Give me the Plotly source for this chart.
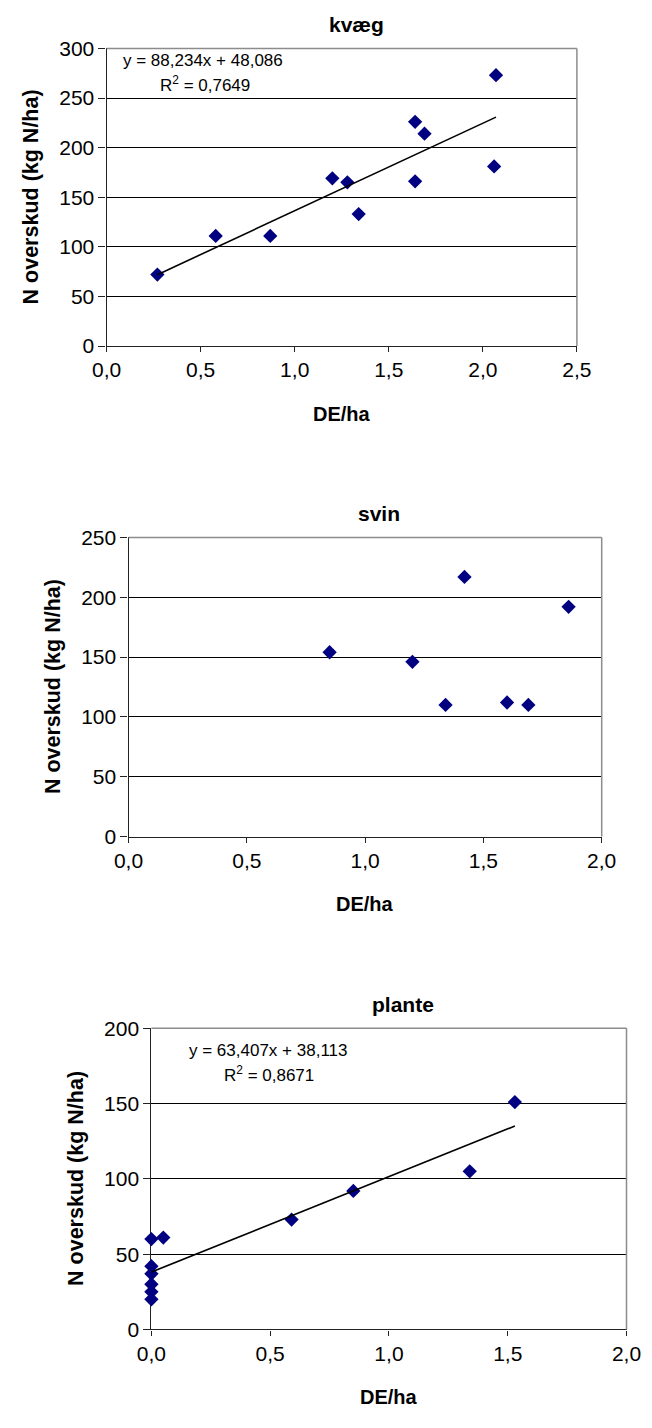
import plotly.graph_objects as go

W, H = 652, 1428

# ---------------- data ----------------
kvaeg_de = [0.27, 0.58, 0.87, 1.20, 1.28, 1.34, 1.64, 1.64, 1.69, 2.06, 2.07]
kvaeg_n = [72, 111, 111, 169, 165, 133, 226, 166, 214, 181, 273]

svin_de = [0.85, 1.20, 1.34, 1.42, 1.60, 1.69, 1.86]
svin_n = [154, 146, 110, 217, 112, 110, 192]

plante_de = [0.0, 0.05, 0.0, 0.0, 0.0, 0.0, 0.0, 0.59, 0.85, 1.34, 1.53]
plante_n = [60, 61, 42, 37, 30, 25, 20, 73, 92, 105, 151]

kvaeg_fit = {"slope": 88.234, "intercept": 48.086, "r2": 0.7649}
plante_fit = {"slope": 63.407, "intercept": 38.113, "r2": 0.8671}

titles = ["kvæg", "svin", "plante"]
y_label = "N overskud (kg N/ha)"
x_label = "DE/ha"
eq_texts = {
    "kvæg": ["y = 88,234x + 48,086", "R<sup>2</sup> = 0,7649"],
    "plante": ["y = 63,407x + 38,113", "R<sup>2</sup> = 0,8671"],
}

# ---------------- layout helpers ----------------
def px(p):
    return p / W

def py(p):
    return 1 - p / H

# plot boxes in pixels: left, right, top, bottom
boxes = [
    (96, 589, 37, 339.5),
    (119, 615, 534, 838),
    (143, 641, 1033, 1339),
]
x_ranges = [[0, 2.5], [0, 2.0], [0, 2.0]]
y_ranges = [[0, 300], [0, 250], [0, 200]]

FONT = "Liberation Sans, Arial, sans-serif"
NAVY = "#000080"
AX = "#222222"
BORDER = "#8c8c8c"

fig = go.Figure()

datasets = [(kvaeg_de, kvaeg_n, kvaeg_fit), (svin_de, svin_n, None), (plante_de, plante_n, plante_fit)]

layout = dict(
    width=W, height=H, autosize=False,
    margin=dict(l=0, r=0, t=0, b=0),
    paper_bgcolor="white", plot_bgcolor="white",
    showlegend=False,
    separators=",.",
    font=dict(family=FONT, color="black"),
)
annotations = []
shapes = []

for i, ((xs, ys, fit), (l, r, t, b)) in enumerate(zip(datasets, boxes)):
    n = "" if i == 0 else str(i + 1)
    xa, ya = "x" + n, "y" + n
    fig.add_trace(go.Scatter(
        x=xs, y=ys, mode="markers", xaxis=xa, yaxis=ya,
        marker=dict(symbol="diamond", size=11, color=NAVY, line=dict(width=0)),
        cliponaxis=False,
    ))
    if fit is not None:
        x0, x1 = min(xs), max(xs)
        fig.add_trace(go.Scatter(
            x=[x0, x1],
            y=[fit["slope"] * x0 + fit["intercept"], fit["slope"] * x1 + fit["intercept"]],
            mode="lines", xaxis=xa, yaxis=ya,
            line=dict(color="black", width=1.6),
            cliponaxis=False,
        ))
    layout["xaxis" + n] = dict(
        domain=[px(l), px(r)], anchor=ya, range=x_ranges[i],
        dtick=0.5, tick0=0, tickformat=".1f",
        showgrid=False, zeroline=False,
        showline=True, linecolor=AX, linewidth=1.2,
        ticks="outside", ticklen=5, tickcolor=AX, tickwidth=1,
        tickfont=dict(family=FONT, size=21, color="black"),
        layer="below traces", fixedrange=True,
    )
    layout["yaxis" + n] = dict(
        domain=[py(b), py(t)], anchor=xa, range=y_ranges[i],
        dtick=50, tick0=0,
        showgrid=True, gridcolor="black", gridwidth=1,
        zeroline=False,
        showline=True, linecolor=AX, linewidth=1.2,
        ticks="outside", ticklen=7, tickcolor=AX, tickwidth=1,
        tickfont=dict(family=FONT, size=21, color="black"),
        layer="below traces", fixedrange=True,
    )
    # grey top / right border
    shapes.append(dict(type="line", xref=xa + " domain", yref=ya + " domain",
                       x0=0, x1=1, y0=1, y1=1, line=dict(color=BORDER, width=1.5), layer="above"))
    shapes.append(dict(type="line", xref=xa + " domain", yref=ya + " domain",
                       x0=1, x1=1, y0=0, y1=1, line=dict(color=BORDER, width=1.5), layer="above"))
    cx = (l + r) / 2
    # chart title
    annotations.append(dict(text="<b>%s</b>" % titles[i], x=px(cx + 15), y=py(t - 24),
                            xref="paper", yref="paper", showarrow=False,
                            xanchor="center", yanchor="middle",
                            font=dict(family=FONT, size=21, color="black")))
    # x title
    annotations.append(dict(text="<b>%s</b>" % x_label, x=px(cx), y=py(b + 69),
                            xref="paper", yref="paper", showarrow=False,
                            xanchor="center", yanchor="middle",
                            font=dict(family=FONT, size=20, color="black")))
    # y title
    annotations.append(dict(text="<b>%s</b>" % y_label, x=px(l - 79), y=py((t + b) / 2),
                            xref="paper", yref="paper", showarrow=False, textangle=-90,
                            xanchor="center", yanchor="middle",
                            font=dict(family=FONT, size=21.5, color="black")))

# regression equations
eq_pos = {"kvæg": [(197, 49), (199, 73)], "plante": [(265, 1056), (266, 1079)]}
for key, lines in eq_texts.items():
    for txt, (ex, ey) in zip(lines, eq_pos[key]):
        annotations.append(dict(text=txt, x=px(ex), y=py(ey), xref="paper", yref="paper",
                                showarrow=False, xanchor="center", yanchor="middle",
                                font=dict(family=FONT, size=17, color="black")))

layout["annotations"] = annotations
layout["shapes"] = shapes
fig.update_layout(**layout)

fig.write_html(
    "out.html",
    post_script="document.documentElement.style.margin='0';document.body.style.margin='0';"
                "document.body.style.padding='0';document.documentElement.style.overflow='hidden';",
)
